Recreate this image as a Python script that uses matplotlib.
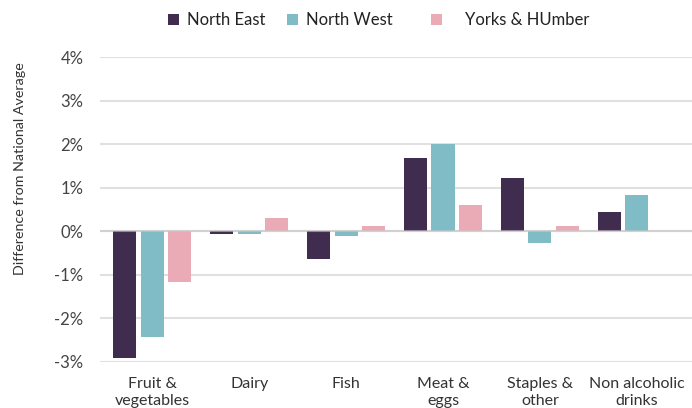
import matplotlib

matplotlib.use("Agg")
import matplotlib.pyplot as plt
import numpy as np
from matplotlib.ticker import FuncFormatter

categories = [
    "Fruit &\nvegetables",
    "Dairy",
    "Fish",
    "Meat &\neggs",
    "Staples &\nother",
    "Non alcoholic\ndrinks",
]
north_east = [-2.92, -0.07, -0.65, 1.69, 1.23, 0.45]
north_west = [-2.44, -0.07, -0.12, 1.99, -0.28, 0.84]
yorks_humber = [-1.18, 0.29, 0.11, 0.61, 0.11, 0.0]
series_labels = ["North East", "North West", "Yorks & HUmber"]
y_ticks = [-3, -2, -1, 0, 1, 2, 3, 4]

colors = ["#402c4e", "#80bcc5", "#eaabb7"]
text_color = "#333333"
grid_color = "#e0e0e0"

plt.rcParams["font.family"] = ["Lato", "DejaVu Sans"]

fig = plt.figure(figsize=(6.92, 4.08), dpi=100)
ax = fig.add_axes([100 / 692, 1 - 361.7 / 408, 592 / 692, (361.7 - 57) / 408])

x = np.arange(len(categories))
width = 0.238
offset = 0.284
bars = []
for i, (vals, col) in enumerate(zip([north_east, north_west, yorks_humber], colors)):
    b = ax.bar(x + (i - 1) * offset, vals, width, color=col, zorder=2)
    bars.append(b)

ax.set_xlim(-0.54, 5.57)
ax.set_ylim(-3, 4)
ax.set_yticks(y_ticks)
ax.yaxis.set_major_formatter(FuncFormatter(lambda v, _: f"{v:.0f}%"))
ax.set_xticks(x)
ax.set_xticklabels(categories, fontsize=11.5, color=text_color, linespacing=1.3)
ax.tick_params(axis="x", length=0, pad=11)
ax.tick_params(axis="y", length=0, pad=12, labelsize=12, labelcolor="#444444")

ax.grid(axis="y", color=grid_color, linewidth=1.5, zorder=0)
ax.axhline(0, color="#c8c8c8", linewidth=1.5, alpha=0.6, zorder=3)
for s in ax.spines.values():
    s.set_visible(False)

fig.text(20 / 692, 1 - 169 / 408, "Difference from National Average",
         rotation=90, ha="center", va="center", fontsize=10.3, color=text_color)

# legend entries placed one by one to keep the uneven spacing
legend_x = [168, 287, 431]
text_pads = [0.5, 0.5, 1.4]
for b, lab, lx, tp in zip(bars, series_labels, legend_x, text_pads):
    fig.legend([b], [lab], loc="center left", bbox_to_anchor=(lx / 692, 1 - 20 / 408),
               frameon=False, fontsize=12, handlelength=0.65, handleheight=0.65,
               handletextpad=tp, borderpad=0, borderaxespad=0, labelcolor="#222222")

fig.savefig("out.png", dpi=100)
